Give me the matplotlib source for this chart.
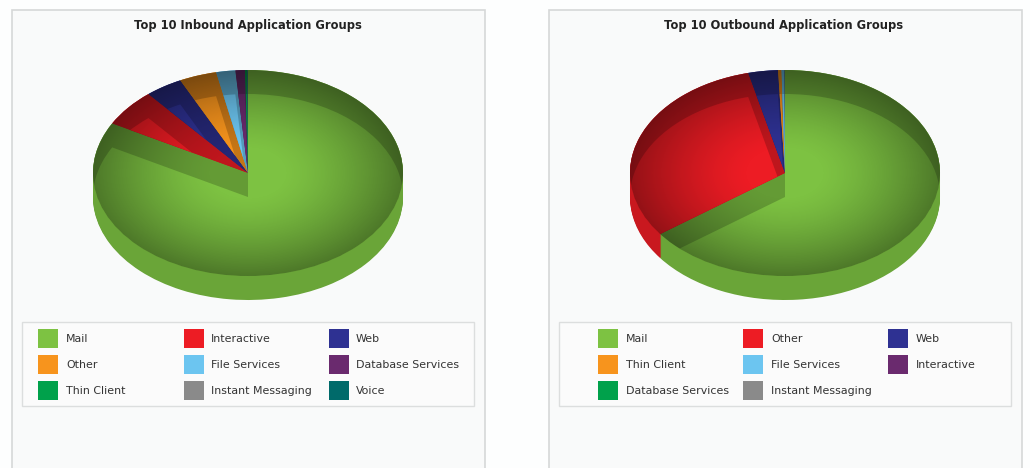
import matplotlib
matplotlib.use("Agg")
import matplotlib.pyplot as plt
from matplotlib.colors import to_rgb
from matplotlib.patches import Circle, Rectangle
import numpy as np

W, H = 1030, 468

colors = ["#7dc242", "#ed1c24", "#2e3192", "#f7941d", "#6cc5f0",
          "#6a2a6e", "#00a14b", "#8a8a8a", "#006a6a"]

in_title = "Top 10 Inbound Application Groups"
in_labels = ["Mail", "Interactive", "Web", "Other", "File Services",
             "Database Services", "Thin Client", "Instant Messaging", "Voice"]
in_values = [83.0, 5.9, 3.9, 3.9, 2.0, 1.0, 0.2, 0.05, 0.05]

out_title = "Top 10 Outbound Application Groups"
out_labels = ["Mail", "Other", "Web", "Thin Client", "File Services",
              "Interactive", "Database Services", "Instant Messaging"]
out_values = [64.95, 31.3, 3.1, 0.36, 0.3, 0.03, 0.02, 0.01]

RX, RY, DEPTH = 155, 103, 24
PAD = 1.1


def shade(color, f):
    return tuple(c * f for c in to_rgb(color))


def draw_pie(fig, cx, cy, values, cols):
    # axes in pixels -> pie radius 1 turns into an ellipse
    depth = DEPTH / RY
    left = cx - PAD * RX
    bottom = H - (cy + (PAD + depth) * RY)
    ax = fig.add_axes([left / W, bottom / H, 2 * PAD * RX / W, (2 * PAD + depth) * RY / H])
    pie_args = dict(startangle=90, counterclock=False, radius=1)

    # side wall, stacked copies going up
    side = [shade(c, 0.85) for c in cols]
    for off in np.linspace(depth, 0, DEPTH + 1):
        ax.pie(values, colors=side, center=(0, -off), wedgeprops=dict(linewidth=0), **pie_args)

    # top surface: dark band where the lower pie does not show through
    dark = [shade(c, 0.8) for c in cols]
    top, _ = ax.pie(values, colors=dark, center=(0, 0), wedgeprops=dict(linewidth=0), **pie_args)
    lit, _ = ax.pie(values, colors=cols, center=(0, -depth), wedgeprops=dict(linewidth=0), **pie_args)
    for w_lit, w_top in zip(lit, top):
        w_lit.set_clip_on(True)
        w_lit.set_clip_path(w_top)

    # rim darkening
    xx, yy = np.meshgrid(np.linspace(-1, 1, 400), np.linspace(-1, 1, 400))
    r = np.sqrt(xx ** 2 + yy ** 2)
    shadow = np.zeros(r.shape + (4,))
    shadow[..., 3] = 0.38 * np.clip((r - 0.22) / 0.78, 0, 1) ** 1.4
    im = ax.imshow(shadow, extent=(-1, 1, -1, 1), aspect="auto", zorder=10, interpolation="bilinear")
    im.set_clip_path(Circle((0, 0), 1, transform=ax.transData))

    ax.set_aspect("auto")
    ax.set_xlim(-PAD, PAD)
    ax.set_ylim(-PAD - depth, PAD)
    ax.axis("off")


def draw_panel(bg, x0, title, title_x, labels, swatch_x, text_x, legend_x):
    bg.add_patch(Rectangle((x0, 10), 473, 470, fc="#f9fafa", ec="#d6d8d8", lw=1.2))
    bg.text(title_x, 25, title, ha="center", va="center",
            fontsize=8.3, fontweight="bold", color="#222222", family="DejaVu Sans")
    bg.add_patch(Rectangle((legend_x, 322), 452, 84, fc="#fbfbfb", ec="#dcdede", lw=1))
    for i, label in enumerate(labels):
        row, col = i // 3, i % 3
        y = 329 + 26.2 * row
        bg.add_patch(Rectangle((swatch_x[col], y), 20, 19, fc=colors[i], ec="none"))
        bg.text(text_x[col], y + 10, label, ha="left", va="center", fontsize=7.9,
                color="#333333", family="DejaVu Sans")


fig = plt.figure(figsize=(W / 100, H / 100), dpi=100, facecolor="#fdfefe")

bg = fig.add_axes([0, 0, 1, 1])
bg.set_xlim(0, W)
bg.set_ylim(H, 0)
bg.axis("off")

draw_panel(bg, 12, in_title, 247.5, in_labels, [38, 184, 329], [66, 211, 356], 22)
draw_panel(bg, 549, out_title, 784, out_labels, [598, 743, 888], [626, 771, 916], 559)

draw_pie(fig, 248, 173, in_values, colors[:len(in_values)])
draw_pie(fig, 785, 173, out_values, colors[:len(out_values)])

fig.savefig("out.png", dpi=100, facecolor=fig.get_facecolor())
